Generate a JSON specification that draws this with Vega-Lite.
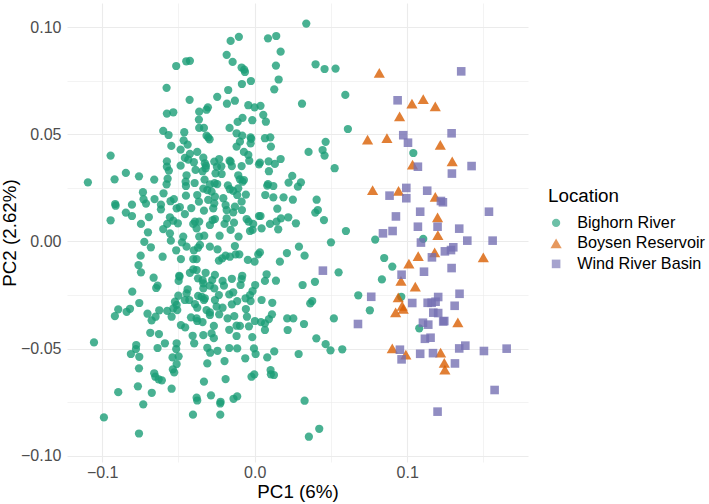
{"$schema":"https://vega.github.io/schema/vega-lite/v6.json","width":461,"height":459,"padding":{"left":67,"top":3,"right":181,"bottom":42},"autosize":{"type":"none"},"background":"white","config":{"view":{"stroke":null},"font":"Liberation Sans"},
"layer":[
{"data":{"values":[]},"mark":{"type":"point","opacity":0},"encoding":{
"x":{"field":"PC1","type":"quantitative","scale":{"domain":[-0.1231,0.1792],"nice":false,"zero":false},"axis":{"orient":"bottom","values":[-0.05,0.05,0.15],"grid":true,"gridColor":"#ebebeb","gridWidth":0.6,"labels":false,"ticks":false,"domain":false,"title":null,"zindex":0}},
"y":{"field":"PC2","type":"quantitative","scale":{"domain":[-0.1029,0.1113],"nice":false,"zero":false},"axis":{"orient":"left","values":[-0.075,-0.025,0.025,0.075],"grid":true,"gridColor":"#ebebeb","gridWidth":0.6,"labels":false,"ticks":false,"domain":false,"title":null,"zindex":0}}}},
{"data":{"values":[
{"PC1":-0.1094,"PC2":0.0276,"Location":"Bighorn River"},{"PC1":-0.0945,"PC2":0.0401,"Location":"Bighorn River"},{"PC1":-0.0919,"PC2":0.029,"Location":"Bighorn River"},{"PC1":-0.0845,"PC2":0.032,"Location":"Bighorn River"},{"PC1":-0.0759,"PC2":0.0304,"Location":"Bighorn River"},{"PC1":-0.0659,"PC2":0.0289,"Location":"Bighorn River"},{"PC1":-0.0915,"PC2":0.0175,"Location":"Bighorn River"},{"PC1":-0.0912,"PC2":0.0167,"Location":"Bighorn River"},{"PC1":-0.0805,"PC2":0.0172,"Location":"Bighorn River"},{"PC1":-0.0845,"PC2":0.0135,"Location":"Bighorn River"},{"PC1":-0.0805,"PC2":0.0119,"Location":"Bighorn River"},{"PC1":-0.0945,"PC2":0.0099,"Location":"Bighorn River"},{"PC1":-0.0746,"PC2":0.0082,"Location":"Bighorn River"},{"PC1":-0.0694,"PC2":0.0114,"Location":"Bighorn River"},{"PC1":-0.07,"PC2":0.0043,"Location":"Bighorn River"},{"PC1":-0.0733,"PC2":0.023,"Location":"Bighorn River"},{"PC1":-0.0729,"PC2":0.0197,"Location":"Bighorn River"},{"PC1":-0.0713,"PC2":0.0177,"Location":"Bighorn River"},{"PC1":-0.0657,"PC2":0.0198,"Location":"Bighorn River"},{"PC1":-0.0615,"PC2":0.0172,"Location":"Bighorn River"},{"PC1":-0.0615,"PC2":0.015,"Location":"Bighorn River"},{"PC1":-0.0598,"PC2":0.0225,"Location":"Bighorn River"},{"PC1":-0.0578,"PC2":0.0267,"Location":"Bighorn River"},{"PC1":-0.0571,"PC2":0.0293,"Location":"Bighorn River"},{"PC1":-0.0563,"PC2":0.0331,"Location":"Bighorn River"},{"PC1":-0.0576,"PC2":0.0349,"Location":"Bighorn River"},{"PC1":-0.0576,"PC2":0.0374,"Location":"Bighorn River"},{"PC1":-0.0547,"PC2":0.0446,"Location":"Bighorn River"},{"PC1":-0.0486,"PC2":0.0429,"Location":"Bighorn River"},{"PC1":-0.044,"PC2":0.0452,"Location":"Bighorn River"},{"PC1":-0.0466,"PC2":0.0472,"Location":"Bighorn River"},{"PC1":-0.0462,"PC2":0.051,"Location":"Bighorn River"},{"PC1":-0.0565,"PC2":0.0497,"Location":"Bighorn River"},{"PC1":-0.06,"PC2":0.0516,"Location":"Bighorn River"},{"PC1":-0.0576,"PC2":0.0597,"Location":"Bighorn River"},{"PC1":-0.0534,"PC2":0.0603,"Location":"Bighorn River"},{"PC1":-0.0578,"PC2":0.0717,"Location":"Bighorn River"},{"PC1":-0.0515,"PC2":0.0819,"Location":"Bighorn River"},{"PC1":-0.0449,"PC2":0.0841,"Location":"Bighorn River"},{"PC1":-0.0425,"PC2":0.0843,"Location":"Bighorn River"},{"PC1":-0.0427,"PC2":0.0661,"Location":"Bighorn River"},{"PC1":-0.0364,"PC2":0.0606,"Location":"Bighorn River"},{"PC1":-0.0366,"PC2":0.0569,"Location":"Bighorn River"},{"PC1":-0.0364,"PC2":0.053,"Location":"Bighorn River"},{"PC1":-0.0333,"PC2":0.053,"Location":"Bighorn River"},{"PC1":-0.0307,"PC2":0.0626,"Location":"Bighorn River"},{"PC1":-0.0316,"PC2":0.0615,"Location":"Bighorn River"},{"PC1":-0.0246,"PC2":0.0675,"Location":"Bighorn River"},{"PC1":-0.0174,"PC2":0.0707,"Location":"Bighorn River"},{"PC1":-0.0182,"PC2":0.0643,"Location":"Bighorn River"},{"PC1":-0.013,"PC2":0.0657,"Location":"Bighorn River"},{"PC1":-0.0184,"PC2":0.0871,"Location":"Bighorn River"},{"PC1":-0.0145,"PC2":0.0838,"Location":"Bighorn River"},{"PC1":-0.0158,"PC2":0.0936,"Location":"Bighorn River"},{"PC1":-0.0104,"PC2":0.0955,"Location":"Bighorn River"},{"PC1":-0.0086,"PC2":0.0812,"Location":"Bighorn River"},{"PC1":-0.0069,"PC2":0.0802,"Location":"Bighorn River"},{"PC1":-0.0064,"PC2":0.0791,"Location":"Bighorn River"},{"PC1":-0.0025,"PC2":0.0749,"Location":"Bighorn River"},{"PC1":-0.0084,"PC2":0.0735,"Location":"Bighorn River"},{"PC1":0.0087,"PC2":0.0948,"Location":"Bighorn River"},{"PC1":0.0141,"PC2":0.0959,"Location":"Bighorn River"},{"PC1":0.017,"PC2":0.0886,"Location":"Bighorn River"},{"PC1":0.0139,"PC2":0.0821,"Location":"Bighorn River"},{"PC1":0.0157,"PC2":0.0756,"Location":"Bighorn River"},{"PC1":0.0128,"PC2":0.071,"Location":"Bighorn River"},{"PC1":-0.0042,"PC2":0.0636,"Location":"Bighorn River"},{"PC1":-0.0001,"PC2":0.0626,"Location":"Bighorn River"},{"PC1":0.0038,"PC2":0.0633,"Location":"Bighorn River"},{"PC1":0.0056,"PC2":0.0591,"Location":"Bighorn River"},{"PC1":0.0073,"PC2":0.0559,"Location":"Bighorn River"},{"PC1":-0.0016,"PC2":0.0566,"Location":"Bighorn River"},{"PC1":-0.008,"PC2":0.0577,"Location":"Bighorn River"},{"PC1":-0.0112,"PC2":0.0558,"Location":"Bighorn River"},{"PC1":-0.0165,"PC2":0.053,"Location":"Bighorn River"},{"PC1":-0.0119,"PC2":0.0505,"Location":"Bighorn River"},{"PC1":-0.0082,"PC2":0.0494,"Location":"Bighorn River"},{"PC1":-0.0097,"PC2":0.0466,"Location":"Bighorn River"},{"PC1":-0.0119,"PC2":0.0443,"Location":"Bighorn River"},{"PC1":-0.0071,"PC2":0.0418,"Location":"Bighorn River"},{"PC1":-0.0042,"PC2":0.0404,"Location":"Bighorn River"},{"PC1":-0.0036,"PC2":0.0377,"Location":"Bighorn River"},{"PC1":-0.0086,"PC2":0.0352,"Location":"Bighorn River"},{"PC1":-0.0027,"PC2":0.0486,"Location":"Bighorn River"},{"PC1":-0.0023,"PC2":0.0479,"Location":"Bighorn River"},{"PC1":-0.0027,"PC2":0.0458,"Location":"Bighorn River"},{"PC1":0.0067,"PC2":0.0482,"Location":"Bighorn River"},{"PC1":0.0102,"PC2":0.0486,"Location":"Bighorn River"},{"PC1":0.0106,"PC2":0.0443,"Location":"Bighorn River"},{"PC1":0.017,"PC2":0.0385,"Location":"Bighorn River"},{"PC1":0.0132,"PC2":0.0362,"Location":"Bighorn River"},{"PC1":0.0091,"PC2":0.0374,"Location":"Bighorn River"},{"PC1":0.0034,"PC2":0.0368,"Location":"Bighorn River"},{"PC1":0.0028,"PC2":0.036,"Location":"Bighorn River"},{"PC1":0.0093,"PC2":0.0328,"Location":"Bighorn River"},{"PC1":0.0222,"PC2":0.0275,"Location":"Bighorn River"},{"PC1":0.0087,"PC2":0.0268,"Location":"Bighorn River"},{"PC1":0.0122,"PC2":0.0259,"Location":"Bighorn River"},{"PC1":0.0082,"PC2":0.0261,"Location":"Bighorn River"},{"PC1":0.0069,"PC2":0.0217,"Location":"Bighorn River"},{"PC1":0.0122,"PC2":0.0206,"Location":"Bighorn River"},{"PC1":0.0189,"PC2":0.0206,"Location":"Bighorn River"},{"PC1":0.0148,"PC2":0.0153,"Location":"Bighorn River"},{"PC1":-0.0316,"PC2":0.0494,"Location":"Bighorn River"},{"PC1":-0.0305,"PC2":0.0486,"Location":"Bighorn River"},{"PC1":-0.0296,"PC2":0.0477,"Location":"Bighorn River"},
{"PC1":-0.0425,"PC2":0.0409,"Location":"Bighorn River"},{"PC1":-0.0377,"PC2":0.0418,"Location":"Bighorn River"},{"PC1":-0.0337,"PC2":0.0391,"Location":"Bighorn River"},{"PC1":-0.0458,"PC2":0.039,"Location":"Bighorn River"},{"PC1":-0.0436,"PC2":0.0382,"Location":"Bighorn River"},{"PC1":-0.0486,"PC2":0.0354,"Location":"Bighorn River"},{"PC1":-0.0399,"PC2":0.037,"Location":"Bighorn River"},{"PC1":-0.0388,"PC2":0.0334,"Location":"Bighorn River"},{"PC1":-0.0447,"PC2":0.0309,"Location":"Bighorn River"},{"PC1":-0.0453,"PC2":0.0279,"Location":"Bighorn River"},{"PC1":-0.0451,"PC2":0.0259,"Location":"Bighorn River"},{"PC1":-0.0394,"PC2":0.0273,"Location":"Bighorn River"},{"PC1":-0.0329,"PC2":0.0289,"Location":"Bighorn River"},{"PC1":-0.0327,"PC2":0.0365,"Location":"Bighorn River"},{"PC1":-0.032,"PC2":0.0354,"Location":"Bighorn River"},{"PC1":-0.0342,"PC2":0.0328,"Location":"Bighorn River"},{"PC1":-0.0322,"PC2":0.0342,"Location":"Bighorn River"},{"PC1":-0.0265,"PC2":0.0373,"Location":"Bighorn River"},{"PC1":-0.0233,"PC2":0.0385,"Location":"Bighorn River"},{"PC1":-0.0248,"PC2":0.0349,"Location":"Bighorn River"},{"PC1":-0.0219,"PC2":0.0351,"Location":"Bighorn River"},{"PC1":-0.0257,"PC2":0.0318,"Location":"Bighorn River"},{"PC1":-0.0217,"PC2":0.0315,"Location":"Bighorn River"},{"PC1":-0.0165,"PC2":0.0377,"Location":"Bighorn River"},{"PC1":-0.015,"PC2":0.0352,"Location":"Bighorn River"},{"PC1":-0.0158,"PC2":0.0373,"Location":"Bighorn River"},{"PC1":-0.0108,"PC2":0.0309,"Location":"Bighorn River"},{"PC1":-0.0097,"PC2":0.029,"Location":"Bighorn River"},{"PC1":-0.008,"PC2":0.0279,"Location":"Bighorn River"},{"PC1":-0.0071,"PC2":0.0287,"Location":"Bighorn River"},{"PC1":-0.0263,"PC2":0.0272,"Location":"Bighorn River"},{"PC1":-0.0246,"PC2":0.0268,"Location":"Bighorn River"},{"PC1":-0.0294,"PC2":0.0267,"Location":"Bighorn River"},{"PC1":-0.0337,"PC2":0.0247,"Location":"Bighorn River"},{"PC1":-0.0311,"PC2":0.024,"Location":"Bighorn River"},{"PC1":-0.0283,"PC2":0.0233,"Location":"Bighorn River"},{"PC1":-0.0176,"PC2":0.0262,"Location":"Bighorn River"},{"PC1":-0.0163,"PC2":0.0244,"Location":"Bighorn River"},{"PC1":-0.0141,"PC2":0.0236,"Location":"Bighorn River"},{"PC1":-0.0108,"PC2":0.0248,"Location":"Bighorn River"},{"PC1":-0.0058,"PC2":0.0219,"Location":"Bighorn River"},{"PC1":-0.0115,"PC2":0.0217,"Location":"Bighorn River"},{"PC1":-0.0451,"PC2":0.0214,"Location":"Bighorn River"},{"PC1":-0.0377,"PC2":0.0217,"Location":"Bighorn River"},{"PC1":-0.0366,"PC2":0.0186,"Location":"Bighorn River"},{"PC1":-0.0305,"PC2":0.0194,"Location":"Bighorn River"},{"PC1":-0.0261,"PC2":0.0209,"Location":"Bighorn River"},{"PC1":-0.0206,"PC2":0.0202,"Location":"Bighorn River"},{"PC1":-0.0265,"PC2":0.0178,"Location":"Bighorn River"},{"PC1":-0.0272,"PC2":0.0155,"Location":"Bighorn River"},{"PC1":-0.0191,"PC2":0.017,"Location":"Bighorn River"},{"PC1":-0.0184,"PC2":0.0147,"Location":"Bighorn River"},{"PC1":-0.013,"PC2":0.0163,"Location":"Bighorn River"},{"PC1":-0.0141,"PC2":0.0136,"Location":"Bighorn River"},{"PC1":-0.0086,"PC2":0.0186,"Location":"Bighorn River"},{"PC1":-0.0084,"PC2":0.0147,"Location":"Bighorn River"},{"PC1":-0.0552,"PC2":0.0188,"Location":"Bighorn River"},{"PC1":-0.053,"PC2":0.0198,"Location":"Bighorn River"},{"PC1":-0.0491,"PC2":0.016,"Location":"Bighorn River"},{"PC1":-0.0512,"PC2":0.0155,"Location":"Bighorn River"},{"PC1":-0.0458,"PC2":0.0128,"Location":"Bighorn River"},{"PC1":-0.0416,"PC2":0.0156,"Location":"Bighorn River"},{"PC1":-0.0333,"PC2":0.0144,"Location":"Bighorn River"},{"PC1":-0.0556,"PC2":0.0113,"Location":"Bighorn River"},{"PC1":-0.0574,"PC2":0.0082,"Location":"Bighorn River"},{"PC1":-0.0534,"PC2":0.0097,"Location":"Bighorn River"},{"PC1":-0.0504,"PC2":0.0085,"Location":"Bighorn River"},{"PC1":-0.06,"PC2":0.0058,"Location":"Bighorn River"},{"PC1":-0.0556,"PC2":0.0038,"Location":"Bighorn River"},{"PC1":-0.0392,"PC2":0.0093,"Location":"Bighorn River"},{"PC1":-0.0364,"PC2":0.0093,"Location":"Bighorn River"},{"PC1":-0.0403,"PC2":0.0082,"Location":"Bighorn River"},{"PC1":-0.0381,"PC2":0.0061,"Location":"Bighorn River"},{"PC1":-0.0294,"PC2":0.0077,"Location":"Bighorn River"},{"PC1":-0.0261,"PC2":0.0105,"Location":"Bighorn River"},{"PC1":-0.0276,"PC2":0.01,"Location":"Bighorn River"},{"PC1":-0.0198,"PC2":0.0082,"Location":"Bighorn River"},{"PC1":-0.0184,"PC2":0.0108,"Location":"Bighorn River"},{"PC1":-0.0136,"PC2":0.0088,"Location":"Bighorn River"},{"PC1":-0.0158,"PC2":0.0054,"Location":"Bighorn River"},{"PC1":-0.0053,"PC2":0.0105,"Location":"Bighorn River"},{"PC1":-0.004,"PC2":0.0093,"Location":"Bighorn River"},{"PC1":0.0028,"PC2":0.0119,"Location":"Bighorn River"},{"PC1":0.0038,"PC2":0.0119,"Location":"Bighorn River"},{"PC1":-0.001,"PC2":0.0082,"Location":"Bighorn River"},{"PC1":-0.0031,"PC2":0.0049,"Location":"Bighorn River"},{"PC1":-0.0014,"PC2":0.0054,"Location":"Bighorn River"},{"PC1":0.0045,"PC2":0.0061,"Location":"Bighorn River"},{"PC1":0.01,"PC2":0.0082,"Location":"Bighorn River"},{"PC1":0.0154,"PC2":0.0057,"Location":"Bighorn River"},{"PC1":0.0143,"PC2":0.0093,"Location":"Bighorn River"},{"PC1":0.0172,"PC2":0.0108,"Location":"Bighorn River"},{"PC1":0.022,"PC2":0.0113,"Location":"Bighorn River"},
{"PC1":-0.0724,"PC2":-0.0002,"Location":"Bighorn River"},{"PC1":-0.0681,"PC2":-0.0027,"Location":"Bighorn River"},{"PC1":-0.0748,"PC2":-0.0066,"Location":"Bighorn River"},{"PC1":-0.0604,"PC2":-0.0071,"Location":"Bighorn River"},{"PC1":-0.0762,"PC2":-0.011,"Location":"Bighorn River"},{"PC1":-0.0746,"PC2":-0.0144,"Location":"Bighorn River"},{"PC1":-0.0663,"PC2":-0.0169,"Location":"Bighorn River"},{"PC1":-0.0515,"PC2":-0.0041,"Location":"Bighorn River"},{"PC1":-0.0484,"PC2":-0.0082,"Location":"Bighorn River"},{"PC1":-0.0447,"PC2":-0.0024,"Location":"Bighorn River"},{"PC1":-0.0477,"PC2":-0.0004,"Location":"Bighorn River"},{"PC1":-0.0469,"PC2":0.0023,"Location":"Bighorn River"},{"PC1":-0.055,"PC2":0.0004,"Location":"Bighorn River"},{"PC1":-0.0399,"PC2":-0.0041,"Location":"Bighorn River"},{"PC1":-0.0372,"PC2":-0.0029,"Location":"Bighorn River"},{"PC1":-0.0359,"PC2":-0.0016,"Location":"Bighorn River"},{"PC1":-0.0364,"PC2":0.0023,"Location":"Bighorn River"},{"PC1":-0.0331,"PC2":0.0027,"Location":"Bighorn River"},{"PC1":-0.023,"PC2":0.0027,"Location":"Bighorn River"},{"PC1":-0.0106,"PC2":0.0023,"Location":"Bighorn River"},{"PC1":-0.0294,"PC2":-0.0024,"Location":"Bighorn River"},{"PC1":-0.0244,"PC2":-0.0037,"Location":"Bighorn River"},{"PC1":-0.013,"PC2":-0.0021,"Location":"Bighorn River"},{"PC1":-0.0191,"PC2":-0.0066,"Location":"Bighorn River"},{"PC1":-0.0213,"PC2":-0.0079,"Location":"Bighorn River"},{"PC1":-0.0235,"PC2":-0.0089,"Location":"Bighorn River"},{"PC1":-0.0163,"PC2":-0.0071,"Location":"Bighorn River"},{"PC1":-0.0125,"PC2":-0.006,"Location":"Bighorn River"},{"PC1":-0.0101,"PC2":-0.006,"Location":"Bighorn River"},{"PC1":-0.0045,"PC2":-0.0086,"Location":"Bighorn River"},{"PC1":-0.0001,"PC2":-0.0094,"Location":"Bighorn River"},{"PC1":0.0023,"PC2":-0.006,"Location":"Bighorn River"},{"PC1":0.0034,"PC2":-0.0051,"Location":"Bighorn River"},{"PC1":0.0165,"PC2":-0.0094,"Location":"Bighorn River"},{"PC1":0.0211,"PC2":-0.0054,"Location":"Bighorn River"},{"PC1":-0.0403,"PC2":-0.0082,"Location":"Bighorn River"},{"PC1":-0.0381,"PC2":-0.0082,"Location":"Bighorn River"},{"PC1":-0.0425,"PC2":-0.0146,"Location":"Bighorn River"},{"PC1":-0.0403,"PC2":-0.013,"Location":"Bighorn River"},{"PC1":-0.0381,"PC2":-0.0133,"Location":"Bighorn River"},{"PC1":-0.0322,"PC2":-0.0146,"Location":"Bighorn River"},{"PC1":-0.0372,"PC2":-0.0172,"Location":"Bighorn River"},{"PC1":-0.0337,"PC2":-0.0195,"Location":"Bighorn River"},{"PC1":-0.0342,"PC2":-0.018,"Location":"Bighorn River"},{"PC1":-0.0337,"PC2":-0.0219,"Location":"Bighorn River"},{"PC1":-0.0261,"PC2":-0.0156,"Location":"Bighorn River"},{"PC1":-0.0279,"PC2":-0.018,"Location":"Bighorn River"},{"PC1":-0.0294,"PC2":-0.0206,"Location":"Bighorn River"},{"PC1":-0.0265,"PC2":-0.0219,"Location":"Bighorn River"},{"PC1":-0.0211,"PC2":-0.0184,"Location":"Bighorn River"},{"PC1":-0.0202,"PC2":-0.0206,"Location":"Bighorn River"},{"PC1":-0.015,"PC2":-0.0174,"Location":"Bighorn River"},{"PC1":-0.0082,"PC2":-0.016,"Location":"Bighorn River"},{"PC1":-0.0086,"PC2":-0.0175,"Location":"Bighorn River"},{"PC1":-0.0093,"PC2":-0.0203,"Location":"Bighorn River"},{"PC1":0.0003,"PC2":-0.0203,"Location":"Bighorn River"},{"PC1":0.0078,"PC2":-0.0153,"Location":"Bighorn River"},{"PC1":0.0067,"PC2":-0.0184,"Location":"Bighorn River"},{"PC1":0.0139,"PC2":-0.0183,"Location":"Bighorn River"},{"PC1":-0.0495,"PC2":-0.016,"Location":"Bighorn River"},{"PC1":-0.0499,"PC2":-0.0184,"Location":"Bighorn River"},{"PC1":-0.0493,"PC2":-0.0164,"Location":"Bighorn River"},{"PC1":-0.0637,"PC2":-0.0206,"Location":"Bighorn River"},{"PC1":-0.0646,"PC2":-0.0217,"Location":"Bighorn River"},{"PC1":-0.0803,"PC2":-0.0234,"Location":"Bighorn River"},{"PC1":-0.0757,"PC2":-0.0287,"Location":"Bighorn River"},{"PC1":-0.0895,"PC2":-0.0317,"Location":"Bighorn River"},{"PC1":-0.0917,"PC2":-0.0348,"Location":"Bighorn River"},{"PC1":-0.084,"PC2":-0.0328,"Location":"Bighorn River"},{"PC1":-0.0818,"PC2":-0.0314,"Location":"Bighorn River"},{"PC1":-0.0703,"PC2":-0.0337,"Location":"Bighorn River"},{"PC1":-0.0676,"PC2":-0.0368,"Location":"Bighorn River"},{"PC1":-0.065,"PC2":-0.0351,"Location":"Bighorn River"},{"PC1":-0.0626,"PC2":-0.0321,"Location":"Bighorn River"},{"PC1":-0.0574,"PC2":-0.0324,"Location":"Bighorn River"},{"PC1":-0.0545,"PC2":-0.0351,"Location":"Bighorn River"},{"PC1":-0.0523,"PC2":-0.0281,"Location":"Bighorn River"},{"PC1":-0.0501,"PC2":-0.0253,"Location":"Bighorn River"},{"PC1":-0.044,"PC2":-0.0223,"Location":"Bighorn River"},{"PC1":-0.0447,"PC2":-0.0242,"Location":"Bighorn River"},{"PC1":-0.0429,"PC2":-0.0273,"Location":"Bighorn River"},{"PC1":-0.0458,"PC2":-0.0273,"Location":"Bighorn River"},{"PC1":-0.0512,"PC2":-0.0296,"Location":"Bighorn River"},{"PC1":-0.0508,"PC2":-0.032,"Location":"Bighorn River"},{"PC1":-0.0534,"PC2":-0.0312,"Location":"Bighorn River"},{"PC1":-0.0371,"PC2":-0.0254,"Location":"Bighorn River"},{"PC1":-0.0348,"PC2":-0.0258,"Location":"Bighorn River"},{"PC1":-0.0327,"PC2":-0.0265,"Location":"Bighorn River"},{"PC1":-0.0333,"PC2":-0.0273,"Location":"Bighorn River"},{"PC1":-0.0392,"PC2":-0.0292,"Location":"Bighorn River"},{"PC1":-0.0377,"PC2":-0.0309,"Location":"Bighorn River"},{"PC1":-0.0261,"PC2":-0.0273,"Location":"Bighorn River"},{"PC1":-0.025,"PC2":-0.0304,"Location":"Bighorn River"},{"PC1":-0.0235,"PC2":-0.025,"Location":"Bighorn River"},{"PC1":-0.0167,"PC2":-0.0247,"Location":"Bighorn River"},{"PC1":-0.0141,"PC2":-0.0237,"Location":"Bighorn River"},{"PC1":-0.0115,"PC2":-0.0278,"Location":"Bighorn River"},{"PC1":-0.015,"PC2":-0.0293,"Location":"Bighorn River"},{"PC1":-0.006,"PC2":-0.0265,"Location":"Bighorn River"},{"PC1":-0.0031,"PC2":-0.025,"Location":"Bighorn River"},{"PC1":-0.0014,"PC2":-0.0231,"Location":"Bighorn River"},{"PC1":0.0045,"PC2":-0.0273,"Location":"Bighorn River"},{"PC1":0.0115,"PC2":-0.0286,"Location":"Bighorn River"},{"PC1":-0.0027,"PC2":-0.0278,"Location":"Bighorn River"},{"PC1":-0.0058,"PC2":-0.0315,"Location":"Bighorn River"},{"PC1":-0.0316,"PC2":-0.032,"Location":"Bighorn River"},{"PC1":-0.0294,"PC2":-0.0331,"Location":"Bighorn River"},{"PC1":-0.0211,"PC2":-0.0309,"Location":"Bighorn River"},{"PC1":-0.0233,"PC2":-0.034,"Location":"Bighorn River"},{"PC1":-0.0178,"PC2":-0.0359,"Location":"Bighorn River"},{"PC1":-0.0134,"PC2":-0.0348,"Location":"Bighorn River"},{"PC1":-0.0051,"PC2":-0.0351,"Location":"Bighorn River"},{"PC1":-0.0418,"PC2":-0.0354,"Location":"Bighorn River"},{"PC1":-0.0381,"PC2":-0.0359,"Location":"Bighorn River"},{"PC1":-0.0377,"PC2":-0.0371,"Location":"Bighorn River"},{"PC1":-0.0342,"PC2":-0.0376,"Location":"Bighorn River"},{"PC1":-0.0294,"PC2":-0.0343,"Location":"Bighorn River"},{"PC1":-0.0268,"PC2":-0.0394,"Location":"Bighorn River"},{"PC1":-0.0167,"PC2":-0.0412,"Location":"Bighorn River"},{"PC1":-0.0097,"PC2":-0.0394,"Location":"Bighorn River"},{"PC1":-0.0119,"PC2":-0.0393,"Location":"Bighorn River"},{"PC1":-0.0038,"PC2":-0.0396,"Location":"Bighorn River"},{"PC1":0.0001,"PC2":-0.0371,"Location":"Bighorn River"},{"PC1":0.0041,"PC2":-0.0376,"Location":"Bighorn River"},{"PC1":0.0067,"PC2":-0.0382,"Location":"Bighorn River"},{"PC1":0.0093,"PC2":-0.0362,"Location":"Bighorn River"},{"PC1":0.0113,"PC2":-0.034,"Location":"Bighorn River"},{"PC1":0.0067,"PC2":-0.0413,"Location":"Bighorn River"},{"PC1":0.0213,"PC2":-0.0359,"Location":"Bighorn River"},{"PC1":0.0216,"PC2":-0.0413,"Location":"Bighorn River"},{"PC1":-0.0685,"PC2":-0.0426,"Location":"Bighorn River"},{"PC1":-0.0628,"PC2":-0.0432,"Location":"Bighorn River"},{"PC1":-0.0484,"PC2":-0.039,"Location":"Bighorn River"},{"PC1":-0.0456,"PC2":-0.0401,"Location":"Bighorn River"},{"PC1":-0.0407,"PC2":-0.044,"Location":"Bighorn River"},{"PC1":-0.0397,"PC2":-0.0475,"Location":"Bighorn River"},{"PC1":-0.0337,"PC2":-0.0437,"Location":"Bighorn River"},{"PC1":-0.0283,"PC2":-0.0429,"Location":"Bighorn River"},{"PC1":-0.0268,"PC2":-0.0451,"Location":"Bighorn River"},{"PC1":-0.0119,"PC2":-0.0441,"Location":"Bighorn River"},{"PC1":-0.0016,"PC2":-0.0446,"Location":"Bighorn River"},{"PC1":-0.0589,"PC2":-0.0475,"Location":"Bighorn River"},{"PC1":-0.0637,"PC2":-0.0497,"Location":"Bighorn River"},{"PC1":-0.0777,"PC2":-0.0483,"Location":"Bighorn River"},{"PC1":-0.0779,"PC2":-0.0502,"Location":"Bighorn River"},{"PC1":-0.0812,"PC2":-0.0525,"Location":"Bighorn River"},{"PC1":-0.0757,"PC2":-0.0538,"Location":"Bighorn River"},{"PC1":-0.0512,"PC2":-0.0475,"Location":"Bighorn River"},{"PC1":-0.0515,"PC2":-0.0502,"Location":"Bighorn River"},{"PC1":-0.0499,"PC2":-0.0536,"Location":"Bighorn River"},{"PC1":-0.0539,"PC2":-0.0541,"Location":"Bighorn River"},{"PC1":-0.0512,"PC2":-0.0572,"Location":"Bighorn River"},{"PC1":-0.0537,"PC2":-0.0597,"Location":"Bighorn River"},{"PC1":-0.0528,"PC2":-0.0611,"Location":"Bighorn River"},{"PC1":-0.0311,"PC2":-0.0496,"Location":"Bighorn River"},{"PC1":-0.0292,"PC2":-0.0519,"Location":"Bighorn River"},{"PC1":-0.0244,"PC2":-0.051,"Location":"Bighorn River"},{"PC1":-0.0167,"PC2":-0.0497,"Location":"Bighorn River"},{"PC1":-0.0115,"PC2":-0.0499,"Location":"Bighorn River"},{"PC1":-0.0005,"PC2":-0.0499,"Location":"Bighorn River"},{"PC1":0.0006,"PC2":-0.0525,"Location":"Bighorn River"},{"PC1":0.0128,"PC2":-0.0513,"Location":"Bighorn River"},{"PC1":0.0082,"PC2":-0.0541,"Location":"Bighorn River"},{"PC1":-0.0062,"PC2":-0.0545,"Location":"Bighorn River"},{"PC1":-0.0311,"PC2":-0.0569,"Location":"Bighorn River"},{"PC1":-0.0198,"PC2":-0.0558,"Location":"Bighorn River"},{"PC1":-0.0759,"PC2":-0.0592,"Location":"Bighorn River"},{"PC1":-0.0659,"PC2":-0.0615,"Location":"Bighorn River"},{"PC1":-0.0652,"PC2":-0.0631,"Location":"Bighorn River"},{"PC1":-0.063,"PC2":-0.0643,"Location":"Bighorn River"},{"PC1":-0.0609,"PC2":-0.0648,"Location":"Bighorn River"},{"PC1":-0.0766,"PC2":-0.0676,"Location":"Bighorn River"},{"PC1":-0.0895,"PC2":-0.0703,"Location":"Bighorn River"},{"PC1":-0.0675,"PC2":-0.0706,"Location":"Bighorn River"},{"PC1":-0.0545,"PC2":-0.0687,"Location":"Bighorn River"},{"PC1":-0.0731,"PC2":-0.076,"Location":"Bighorn River"},{"PC1":-0.0989,"PC2":-0.0821,"Location":"Bighorn River"},{"PC1":-0.0759,"PC2":-0.0896,"Location":"Bighorn River"},{"PC1":-0.1054,"PC2":-0.0471,"Location":"Bighorn River"},{"PC1":-0.0333,"PC2":-0.0654,"Location":"Bighorn River"},{"PC1":-0.0191,"PC2":-0.0642,"Location":"Bighorn River"},{"PC1":-0.0021,"PC2":-0.0631,"Location":"Bighorn River"},{"PC1":-0.0003,"PC2":-0.062,"Location":"Bighorn River"},{"PC1":0.0104,"PC2":-0.06,"Location":"Bighorn River"},{"PC1":0.0106,"PC2":-0.062,"Location":"Bighorn River"},{"PC1":0.0126,"PC2":-0.0623,"Location":"Bighorn River"},{"PC1":-0.0381,"PC2":-0.0729,"Location":"Bighorn River"},{"PC1":-0.0377,"PC2":-0.0742,"Location":"Bighorn River"},{"PC1":-0.0287,"PC2":-0.0718,"Location":"Bighorn River"},{"PC1":-0.0224,"PC2":-0.0748,"Location":"Bighorn River"},{"PC1":-0.0226,"PC2":-0.0756,"Location":"Bighorn River"},{"PC1":-0.0139,"PC2":-0.0734,"Location":"Bighorn River"},{"PC1":-0.0115,"PC2":-0.0723,"Location":"Bighorn River"},{"PC1":-0.0405,"PC2":-0.0808,"Location":"Bighorn River"},{"PC1":-0.0226,"PC2":-0.0808,"Location":"Bighorn River"},
{"PC1":0.0338,"PC2":0.1017,"Location":"Bighorn River"},{"PC1":0.0399,"PC2":0.0827,"Location":"Bighorn River"},{"PC1":0.0458,"PC2":0.0805,"Location":"Bighorn River"},{"PC1":0.053,"PC2":0.0807,"Location":"Bighorn River"},{"PC1":0.0594,"PC2":0.0684,"Location":"Bighorn River"},{"PC1":0.031,"PC2":0.0643,"Location":"Bighorn River"},{"PC1":0.0611,"PC2":0.0525,"Location":"Bighorn River"},{"PC1":0.0465,"PC2":0.0465,"Location":"Bighorn River"},{"PC1":0.0353,"PC2":0.0418,"Location":"Bighorn River"},{"PC1":0.0445,"PC2":0.0427,"Location":"Bighorn River"},{"PC1":0.0458,"PC2":0.0401,"Location":"Bighorn River"},{"PC1":0.0524,"PC2":0.0342,"Location":"Bighorn River"},{"PC1":0.104,"PC2":0.0413,"Location":"Bighorn River"},{"PC1":0.0246,"PC2":0.0306,"Location":"Bighorn River"},{"PC1":0.0303,"PC2":0.0276,"Location":"Bighorn River"},{"PC1":0.0283,"PC2":0.0256,"Location":"Bighorn River"},{"PC1":0.025,"PC2":0.0195,"Location":"Bighorn River"},{"PC1":0.0406,"PC2":0.0195,"Location":"Bighorn River"},{"PC1":0.0397,"PC2":0.0135,"Location":"Bighorn River"},{"PC1":0.0414,"PC2":0.0147,"Location":"Bighorn River"},{"PC1":0.027,"PC2":0.0085,"Location":"Bighorn River"},{"PC1":0.0454,"PC2":0.01,"Location":"Bighorn River"},{"PC1":0.0598,"PC2":0.0049,"Location":"Bighorn River"},{"PC1":0.05,"PC2":-0.0004,"Location":"Bighorn River"},{"PC1":0.079,"PC2":0.0009,"Location":"Bighorn River"},{"PC1":0.1105,"PC2":0.0012,"Location":"Bighorn River"},{"PC1":0.029,"PC2":-0.0024,"Location":"Bighorn River"},{"PC1":0.0327,"PC2":-0.0066,"Location":"Bighorn River"},{"PC1":0.0849,"PC2":-0.0077,"Location":"Bighorn River"},{"PC1":0.0902,"PC2":-0.0117,"Location":"Bighorn River"},{"PC1":0.055,"PC2":-0.0144,"Location":"Bighorn River"},{"PC1":0.0834,"PC2":-0.0177,"Location":"Bighorn River"},{"PC1":0.0395,"PC2":-0.0188,"Location":"Bighorn River"},{"PC1":0.0314,"PC2":-0.0203,"Location":"Bighorn River"},{"PC1":0.0679,"PC2":-0.0251,"Location":"Bighorn River"},{"PC1":0.0377,"PC2":-0.0278,"Location":"Bighorn River"},{"PC1":0.0364,"PC2":-0.0289,"Location":"Bighorn River"},{"PC1":0.0961,"PC2":-0.0258,"Location":"Bighorn River"},{"PC1":0.0755,"PC2":-0.0321,"Location":"Bighorn River"},{"PC1":0.0519,"PC2":-0.0359,"Location":"Bighorn River"},{"PC1":0.0253,"PC2":-0.0359,"Location":"Bighorn River"},{"PC1":0.0323,"PC2":-0.0385,"Location":"Bighorn River"},{"PC1":0.1079,"PC2":-0.0405,"Location":"Bighorn River"},{"PC1":0.0404,"PC2":-0.0452,"Location":"Bighorn River"},{"PC1":0.0465,"PC2":-0.0479,"Location":"Bighorn River"},{"PC1":0.0497,"PC2":-0.0508,"Location":"Bighorn River"},{"PC1":0.0574,"PC2":-0.0503,"Location":"Bighorn River"},{"PC1":0.0288,"PC2":-0.0525,"Location":"Bighorn River"},{"PC1":0.0327,"PC2":-0.0743,"Location":"Bighorn River"},{"PC1":0.0423,"PC2":-0.0874,"Location":"Bighorn River"},{"PC1":0.0355,"PC2":-0.0911,"Location":"Bighorn River"},
{"PC1":0.0817,"PC2":0.0787,"Location":"Boysen Reservoir"},{"PC1":0.1031,"PC2":0.0643,"Location":"Boysen Reservoir"},{"PC1":0.1105,"PC2":0.0664,"Location":"Boysen Reservoir"},{"PC1":0.1184,"PC2":0.0631,"Location":"Boysen Reservoir"},{"PC1":0.095,"PC2":0.0584,"Location":"Boysen Reservoir"},{"PC1":0.074,"PC2":0.0475,"Location":"Boysen Reservoir"},{"PC1":0.0867,"PC2":0.0482,"Location":"Boysen Reservoir"},{"PC1":0.1217,"PC2":0.0451,"Location":"Boysen Reservoir"},{"PC1":0.1035,"PC2":0.0359,"Location":"Boysen Reservoir"},{"PC1":0.1295,"PC2":0.0374,"Location":"Boysen Reservoir"},{"PC1":0.0773,"PC2":0.024,"Location":"Boysen Reservoir"},{"PC1":0.0943,"PC2":0.0236,"Location":"Boysen Reservoir"},{"PC1":0.1184,"PC2":0.0208,"Location":"Boysen Reservoir"},{"PC1":0.1199,"PC2":0.0113,"Location":"Boysen Reservoir"},{"PC1":0.1201,"PC2":0.003,"Location":"Boysen Reservoir"},{"PC1":0.1072,"PC2":-0.0068,"Location":"Boysen Reservoir"},{"PC1":0.118,"PC2":-0.0051,"Location":"Boysen Reservoir"},{"PC1":0.1011,"PC2":-0.0103,"Location":"Boysen Reservoir"},{"PC1":0.1499,"PC2":-0.0074,"Location":"Boysen Reservoir"},{"PC1":0.0959,"PC2":-0.0184,"Location":"Boysen Reservoir"},{"PC1":0.1053,"PC2":-0.0211,"Location":"Boysen Reservoir"},{"PC1":0.0941,"PC2":-0.0261,"Location":"Boysen Reservoir"},{"PC1":0.0967,"PC2":-0.03,"Location":"Boysen Reservoir"},{"PC1":0.0974,"PC2":-0.0315,"Location":"Boysen Reservoir"},{"PC1":0.0924,"PC2":-0.0331,"Location":"Boysen Reservoir"},{"PC1":0.1332,"PC2":-0.0377,"Location":"Boysen Reservoir"},{"PC1":0.0902,"PC2":-0.0499,"Location":"Boysen Reservoir"},{"PC1":0.0991,"PC2":-0.0528,"Location":"Boysen Reservoir"},{"PC1":0.1219,"PC2":-0.0519,"Location":"Boysen Reservoir"},{"PC1":0.1243,"PC2":-0.0566,"Location":"Boysen Reservoir"},{"PC1":0.1247,"PC2":-0.0598,"Location":"Boysen Reservoir"},
{"PC1":0.1354,"PC2":0.0794,"Location":"Wind River Basin"},{"PC1":0.0937,"PC2":0.0659,"Location":"Wind River Basin"},{"PC1":0.0974,"PC2":0.0496,"Location":"Wind River Basin"},{"PC1":0.1005,"PC2":0.0461,"Location":"Wind River Basin"},{"PC1":0.1291,"PC2":0.0505,"Location":"Wind River Basin"},{"PC1":0.107,"PC2":0.0349,"Location":"Wind River Basin"},{"PC1":0.1422,"PC2":0.0352,"Location":"Wind River Basin"},{"PC1":0.1293,"PC2":0.0317,"Location":"Wind River Basin"},{"PC1":0.0994,"PC2":0.025,"Location":"Wind River Basin"},{"PC1":0.0884,"PC2":0.0214,"Location":"Wind River Basin"},{"PC1":0.0994,"PC2":0.0202,"Location":"Wind River Basin"},{"PC1":0.1131,"PC2":0.0237,"Location":"Wind River Basin"},{"PC1":0.1221,"PC2":0.0189,"Location":"Wind River Basin"},{"PC1":0.1234,"PC2":0.0183,"Location":"Wind River Basin"},{"PC1":0.1085,"PC2":0.0139,"Location":"Wind River Basin"},{"PC1":0.1536,"PC2":0.0139,"Location":"Wind River Basin"},{"PC1":0.0926,"PC2":0.0117,"Location":"Wind River Basin"},{"PC1":0.107,"PC2":0.0069,"Location":"Wind River Basin"},{"PC1":0.1199,"PC2":0.0069,"Location":"Wind River Basin"},{"PC1":0.1341,"PC2":0.006,"Location":"Wind River Basin"},{"PC1":0.0904,"PC2":0.0049,"Location":"Wind River Basin"},{"PC1":0.0841,"PC2":0.0038,"Location":"Wind River Basin"},{"PC1":0.109,"PC2":-0.0005,"Location":"Wind River Basin"},{"PC1":0.1394,"PC2":0.0004,"Location":"Wind River Basin"},{"PC1":0.156,"PC2":0.0004,"Location":"Wind River Basin"},{"PC1":0.1162,"PC2":-0.0074,"Location":"Wind River Basin"},{"PC1":0.1247,"PC2":-0.0046,"Location":"Wind River Basin"},{"PC1":0.1287,"PC2":-0.004,"Location":"Wind River Basin"},{"PC1":0.1302,"PC2":-0.0027,"Location":"Wind River Basin"},{"PC1":0.0447,"PC2":-0.0136,"Location":"Wind River Basin"},{"PC1":0.0963,"PC2":-0.0155,"Location":"Wind River Basin"},{"PC1":0.111,"PC2":-0.0141,"Location":"Wind River Basin"},{"PC1":0.1291,"PC2":-0.0124,"Location":"Wind River Basin"},{"PC1":0.0764,"PC2":-0.0258,"Location":"Wind River Basin"},{"PC1":0.1033,"PC2":-0.0287,"Location":"Wind River Basin"},{"PC1":0.1134,"PC2":-0.0286,"Location":"Wind River Basin"},{"PC1":0.116,"PC2":-0.0286,"Location":"Wind River Basin"},{"PC1":0.1186,"PC2":-0.0281,"Location":"Wind River Basin"},{"PC1":0.1203,"PC2":-0.0259,"Location":"Wind River Basin"},{"PC1":0.1343,"PC2":-0.0244,"Location":"Wind River Basin"},{"PC1":0.1311,"PC2":-0.03,"Location":"Wind River Basin"},{"PC1":0.1171,"PC2":-0.0332,"Location":"Wind River Basin"},{"PC1":0.1203,"PC2":-0.0334,"Location":"Wind River Basin"},{"PC1":0.1236,"PC2":-0.0373,"Location":"Wind River Basin"},{"PC1":0.1243,"PC2":-0.0371,"Location":"Wind River Basin"},{"PC1":0.0677,"PC2":-0.0385,"Location":"Wind River Basin"},{"PC1":0.1103,"PC2":-0.0379,"Location":"Wind River Basin"},{"PC1":0.1138,"PC2":-0.0388,"Location":"Wind River Basin"},{"PC1":0.1116,"PC2":-0.0454,"Location":"Wind River Basin"},{"PC1":0.1153,"PC2":-0.0449,"Location":"Wind River Basin"},{"PC1":0.1341,"PC2":-0.0499,"Location":"Wind River Basin"},{"PC1":0.1381,"PC2":-0.0486,"Location":"Wind River Basin"},{"PC1":0.0952,"PC2":-0.0505,"Location":"Wind River Basin"},{"PC1":0.0963,"PC2":-0.055,"Location":"Wind River Basin"},{"PC1":0.1085,"PC2":-0.0524,"Location":"Wind River Basin"},{"PC1":0.1169,"PC2":-0.0521,"Location":"Wind River Basin"},{"PC1":0.1313,"PC2":-0.0569,"Location":"Wind River Basin"},{"PC1":0.1503,"PC2":-0.0511,"Location":"Wind River Basin"},{"PC1":0.1652,"PC2":-0.05,"Location":"Wind River Basin"},{"PC1":0.1573,"PC2":-0.0693,"Location":"Wind River Basin"},{"PC1":0.1199,"PC2":-0.0794,"Location":"Wind River Basin"}
]},
"mark":{"type":"point","filled":true,"opacity":0.8,"strokeWidth":0},
"encoding":{
"x":{"field":"PC1","type":"quantitative","scale":{"domain":[-0.1231,0.1792],"nice":false,"zero":false},"axis":{"orient":"bottom","values":[-0.1,0,0.1],"grid":true,"gridColor":"#ebebeb","gridWidth":1.1,"ticks":false,"domain":false,"title":"PC1 (6%)","titleFont":"Liberation Sans","titleFontSize":18.8,"titleFontWeight":"normal","titleColor":"#000000","titlePadding":2,"labelFont":"Liberation Sans","labelFontSize":16,"labelColor":"#4d4d4d","labelPadding":2,"labelExpr":"replace(format(datum.value,'.1f'),'-','−')","zindex":0}},
"y":{"field":"PC2","type":"quantitative","scale":{"domain":[-0.1029,0.1113],"nice":false,"zero":false},"axis":{"orient":"left","values":[-0.1,-0.05,0,0.05,0.1],"grid":true,"gridColor":"#ebebeb","gridWidth":1.1,"ticks":false,"domain":false,"title":"PC2 (2.62%)","titleFont":"Liberation Sans","titleFontSize":18.8,"titleFontWeight":"normal","titleColor":"#000000","titlePadding":1,"labelFont":"Liberation Sans","labelFontSize":16,"labelColor":"#4d4d4d","labelPadding":6,"labelExpr":"replace(format(datum.value,'.2f'),'-','−')","zindex":0}},
"color":{"field":"Location","type":"nominal","scale":{"domain":["Bighorn River","Boysen Reservoir","Wind River Basin"],"range":["#1B9E77","#D95F02","#7570B3"]},"legend":{"orient":"none","legendX":481,"legendY":184,"title":"Location","titleFont":"Liberation Sans","titleFontSize":18.8,"titleFontWeight":"normal","titleColor":"#000000","titlePadding":9,"labelFont":"Liberation Sans","labelFontSize":16.2,"labelColor":"#000000","labelOffset":13,"rowPadding":3.5,"symbolOpacity":0.8}},
"shape":{"field":"Location","type":"nominal","scale":{"domain":["Bighorn River","Boysen Reservoir","Wind River Basin"],"range":["circle","triangle-up","square"]}},
"size":{"field":"Location","type":"nominal","scale":{"type":"ordinal","domain":["Bighorn River","Boysen Reservoir","Wind River Basin"],"range":[68,125,74]}}
}}
],
"resolve":{"axis":{"x":"independent","y":"independent"}}}
